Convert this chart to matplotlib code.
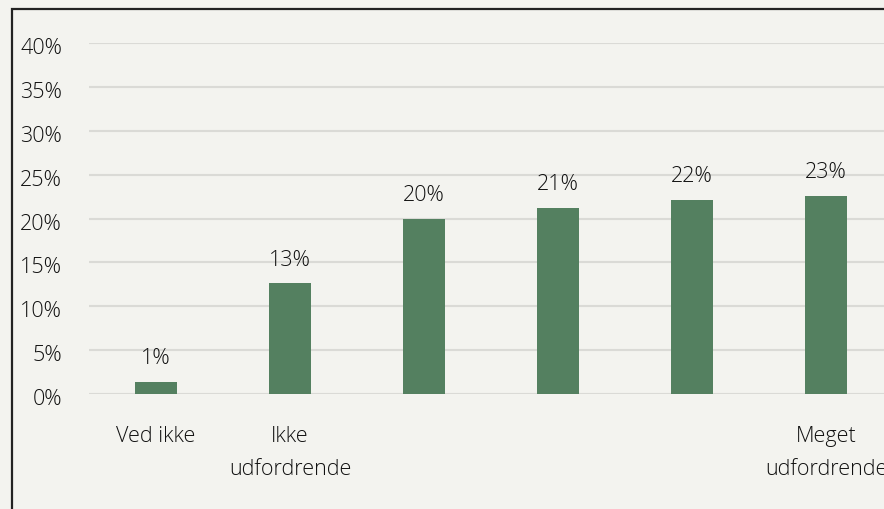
import matplotlib
matplotlib.use("Agg")
import matplotlib.pyplot as plt
from matplotlib.patches import Rectangle
from matplotlib.transforms import ScaledTranslation

categories = ["Ved ikke", "Ikke\nudfordrende", "", "", "", "Meget\nudfordrende"]
values = [1.4, 12.6, 20.0, 21.2, 22.1, 22.6]
yticks = [0, 5, 10, 15, 20, 25, 30, 35, 40]

bg = "#f3f3ef"
bar_color = "#548060"
text_color = "#111111"
grid_color = "#dadad6"

plt.rcParams["font.family"] = ["Open Sans", "DejaVu Sans"]
plt.rcParams["font.weight"] = "light"
FS = 15.5

W, H = 884, 510
fig = plt.figure(figsize=(W / 100, H / 100), dpi=100, facecolor=bg)

# plot area: x from 89px, one category every 134px (runs past the right edge)
left, right = 89, 89 + 6 * 134
y0, y40 = 395, 44
ax = fig.add_axes([left / W, 1 - y0 / H, (right - left) / W, (y0 - y40) / H])
ax.set_facecolor(bg)

x = list(range(len(values)))
ax.bar(x, values, width=0.31, color=bar_color, zorder=3)
ax.set_xlim(-0.5, len(values) - 0.5)
ax.set_ylim(0, 40)

ax.set_yticks(yticks)
ax.set_yticklabels([f"{t}%" for t in yticks])
ax.yaxis.grid(True, color=grid_color, linewidth=1.5, zorder=0)
ax.set_xticks(x)
ax.set_xticklabels(categories, linespacing=1.75)

for s in ax.spines.values():
    s.set_visible(False)
ax.tick_params(axis="y", length=0, pad=19.5, labelsize=FS, labelcolor=text_color)
ax.tick_params(axis="x", length=0, pad=22, labelsize=FS, labelcolor=text_color)

# nudge y tick labels slightly below their gridlines
shift = ScaledTranslation(0, -1.5 / 72, fig.dpi_scale_trans)
for lab in ax.get_yticklabels():
    lab.set_transform(lab.get_transform() + shift)

for xi, v in zip(x, values):
    ax.annotate(f"{v:.0f}%", (xi, v), xytext=(0, 17.5), textcoords="offset points",
                ha="center", va="center", fontsize=FS, color=text_color)

# outer frame, open to the right and bottom
fig.patches.append(Rectangle((12 / W, -0.2), 1.2, 1 - 10 / H + 0.2,
                             transform=fig.transFigure, fill=False,
                             edgecolor="#222222", linewidth=1.6, zorder=10))

fig.savefig("out.png", dpi=100, facecolor=bg)
